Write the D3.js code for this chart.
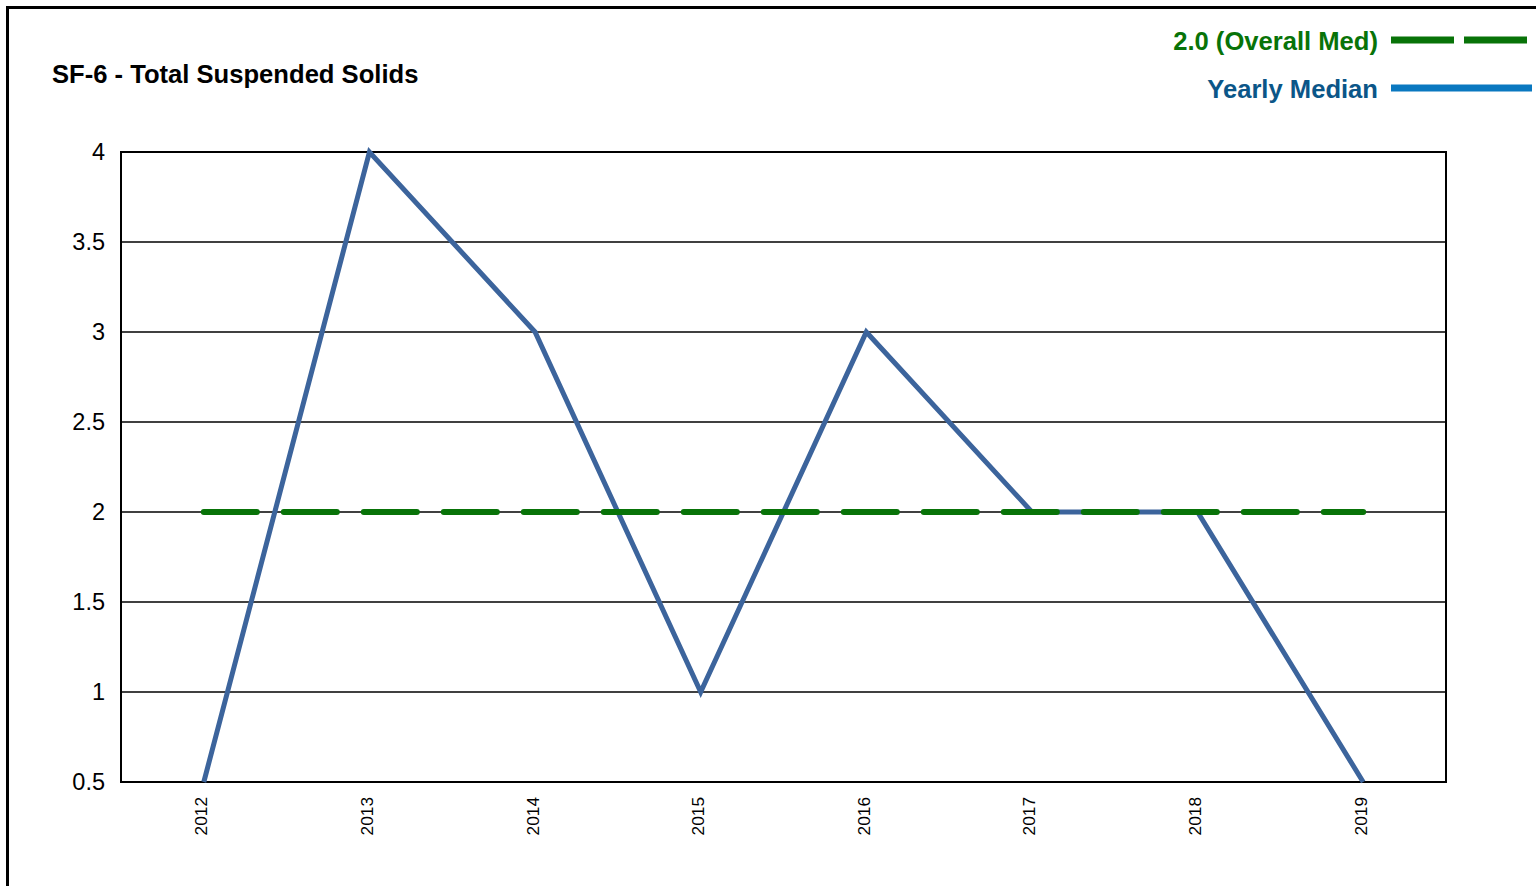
<!DOCTYPE html>
<html><head><meta charset="utf-8">
<script src="https://cdn.jsdelivr.net/npm/d3@7"></script>
<style>body{margin:0;background:#fff;}svg{display:block;font-family:"Liberation Sans",Arial,sans-serif;}</style>
</head><body>
<script>
const years = ["2012","2013","2014","2015","2016","2017","2018","2019"];
const yearlyMedian = [0.5, 4, 3, 1, 3, 2, 2, 0.5];
const overallMedian = 2.0;
const yTicks = [0.5, 1, 1.5, 2, 2.5, 3, 3.5, 4];
const title = "SF-6 - Total Suspended Solids";
const legendLabels = ["2.0 (Overall Med)", "Yearly Median"];

const W = 1536, H = 886;
const svg = d3.select("body").append("svg").attr("width", W).attr("height", H);

// outer frame
svg.append("path").attr("d", `M7.5,${H} V7.5 H${W}`).attr("fill","none").attr("stroke","#000").attr("stroke-width",3);

const L = 121, R = 1446, T = 152, B = 782;
const x = d3.scalePoint().domain(years).range([L, R]).padding(0.5);
const y = d3.scaleLinear().domain([0.5, 4]).range([B, T]);

// gridlines
svg.append("g").selectAll("line").data(yTicks).join("line")
  .attr("x1", L).attr("x2", R).attr("y1", d=>y(d)).attr("y2", d=>y(d))
  .attr("stroke","#000").attr("stroke-width",1.5);

// plot border
svg.append("rect").attr("x",L).attr("y",T).attr("width",R-L).attr("height",B-T)
  .attr("fill","none").attr("stroke","#000").attr("stroke-width",2);

// y axis labels
const yAxis = d3.axisLeft(y).tickValues(yTicks).tickSize(0).tickPadding(16).tickFormat(d3.format("~g"));
const gy = svg.append("g").attr("transform",`translate(${L},0)`).call(yAxis);
gy.select(".domain").remove();
gy.selectAll("text").attr("font-size",23.5).attr("fill","#000").attr("font-family","Liberation Sans, Arial, sans-serif");

// x axis labels
const xAxis = d3.axisBottom(x).tickSize(0).tickPadding(0);
const gx = svg.append("g").attr("transform",`translate(0,${B})`).call(xAxis);
gx.select(".domain").remove();
gx.selectAll("text").attr("font-size",17.3).attr("fill","#000")
  .attr("font-family","Liberation Sans, Arial, sans-serif")
  .attr("text-anchor","end").attr("dy",null).attr("y",0)
  .attr("transform","translate(3,15) rotate(-90)");

// data line
const line = d3.line().x((d,i)=>x(years[i])).y(d=>y(d));
svg.append("path").datum(yearlyMedian).attr("d", line)
  .attr("fill","none").attr("stroke","#3c649c").attr("stroke-width",5).attr("stroke-linejoin","miter");

// overall median dashed
svg.append("line").attr("x1", x(years[0])).attr("x2", x(years[years.length-1]))
  .attr("y1", y(overallMedian)).attr("y2", y(overallMedian))
  .attr("stroke","#087308").attr("stroke-width",6).attr("stroke-dasharray","53,27").attr("stroke-linecap","round");

// title
svg.append("text").attr("x",52).attr("y",83).text(title)
  .attr("font-size",25.6).attr("font-weight","bold").attr("fill","#000");

// legend
svg.append("text").attr("x",1378).attr("y",50).attr("text-anchor","end").text(legendLabels[0])
  .attr("font-size",25.6).attr("font-weight","bold").attr("fill","#087308");
svg.append("line").attr("x1",1391).attr("x2",1532).attr("y1",40).attr("y2",40)
  .attr("stroke","#087308").attr("stroke-width",7).attr("stroke-dasharray","63,10");
svg.append("text").attr("x",1378).attr("y",98).attr("text-anchor","end").text(legendLabels[1])
  .attr("font-size",25.6).attr("font-weight","bold").attr("fill","#0b5688");
svg.append("line").attr("x1",1391).attr("x2",1532).attr("y1",88).attr("y2",88)
  .attr("stroke","#0a78c0").attr("stroke-width",7);
</script>
</body></html>
